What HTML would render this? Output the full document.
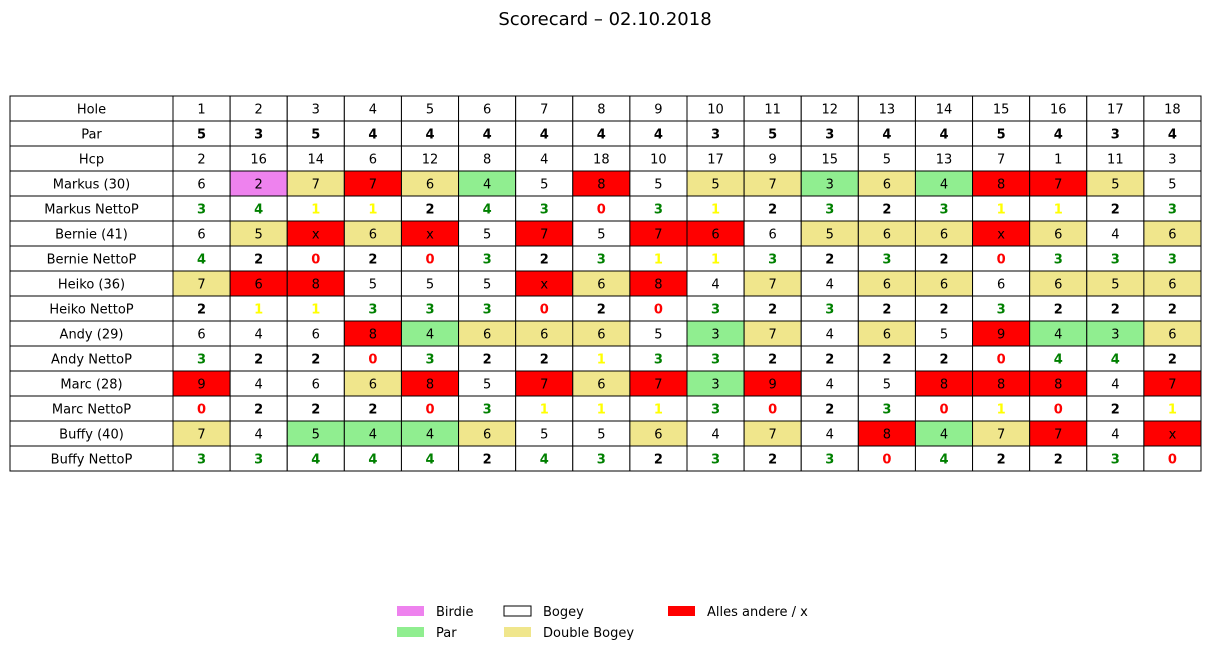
<!DOCTYPE html>
<html><head><meta charset="utf-8"><style>
body{margin:0;background:#fff;width:1210px;height:655px;overflow:hidden;font-family:"DejaVu Sans","Liberation Sans",sans-serif}
svg text{font-family:"DejaVu Sans","Liberation Sans",sans-serif}
</style></head><body>
<svg id="chart" width="1210" height="655">
<text x="605" y="25" text-anchor="middle" font-size="18">Scorecard – 02.10.2018</text>
<g id="table"></g>
<g id="legend"></g>
</svg>
<script>
const holes=[1,2,3,4,5,6,7,8,9,10,11,12,13,14,15,16,17,18];
const par=[5,3,5,4,4,4,4,4,4,3,5,3,4,4,5,4,3,4];
const hcp=[2,16,14,6,12,8,4,18,10,17,9,15,5,13,7,1,11,3];
const players=["Markus (30)","Bernie (41)","Heiko (36)","Andy (29)","Marc (28)","Buffy (40)"];
const nettoNames=["Markus NettoP","Bernie NettoP","Heiko NettoP","Andy NettoP","Marc NettoP","Buffy NettoP"];
const scoresMarkus=[6,2,7,7,6,4,5,8,5,5,7,3,6,4,8,7,5,5];
const nettoMarkus=[3,4,1,1,2,4,3,0,3,1,2,3,2,3,1,1,2,3];
const scoresBernie=[6,5,"x",6,"x",5,7,5,7,6,6,5,6,6,"x",6,4,6];
const nettoBernie=[4,2,0,2,0,3,2,3,1,1,3,2,3,2,0,3,3,3];
const scoresHeiko=[7,6,8,5,5,5,"x",6,8,4,7,4,6,6,6,6,5,6];
const nettoHeiko=[2,1,1,3,3,3,0,2,0,3,2,3,2,2,3,2,2,2];
const scoresAndy=[6,4,6,8,4,6,6,6,5,3,7,4,6,5,9,4,3,6];
const nettoAndy=[3,2,2,0,3,2,2,1,3,3,2,2,2,2,0,4,4,2];
const scoresMarc=[9,4,6,6,8,5,7,6,7,3,9,4,5,8,8,8,4,7];
const nettoMarc=[0,2,2,2,0,3,1,1,1,3,0,2,3,0,1,0,2,1];
const scoresBuffy=[7,4,5,4,4,6,5,5,6,4,7,4,8,4,7,7,4,"x"];
const nettoBuffy=[3,3,4,4,4,2,4,3,2,3,2,3,0,4,2,2,3,0];
const allScores=[scoresMarkus,scoresBernie,scoresHeiko,scoresAndy,scoresMarc,scoresBuffy];
const allNetto=[nettoMarkus,nettoBernie,nettoHeiko,nettoAndy,nettoMarc,nettoBuffy];

const NS="http://www.w3.org/2000/svg";
const tbl=document.getElementById('table');
const X0=10,W0=163,XE=1201,Y0=96,RH=25;
const CW=(XE-X0-W0)/holes.length;
function colX(i){return X0+W0+i*CW;}
function rowY(r){return Y0+r*RH;}
function mk(tag,attrs,parent){const e=document.createElementNS(NS,tag);for(const k in attrs)e.setAttribute(k,attrs[k]);parent.appendChild(e);return e;}
function scoreFill(s,p){if(s==="x")return"#ff0000";const d=s-p;if(d<=-1)return"#ee82ee";if(d===0)return"#90ee90";if(d===1)return"#ffffff";if(d===2)return"#f0e68c";return"#ff0000";}
function nettoColor(n){if(n===0)return"#ff0000";if(n===1)return"#ffff00";if(n===2)return"#000000";return"#008000";}
function cell(r,c,txt,fill,color,bold,name){
  const x=c<0?X0:colX(c),w=c<0?W0:CW,y=rowY(r);
  const rect=mk('rect',{x:x,y:y,width:w,height:RH,fill:fill,stroke:"#000","stroke-width":1},tbl);
  
  
  const t=mk('text',{x:x+w/2,y:y+RH/2+5,"text-anchor":"middle","font-size":13,fill:color,"font-weight":bold?"bold":"normal"},tbl);
  t.textContent=txt;
  
  
}
let r=0;
cell(r,-1,"Hole","#fff","#000",false,"hole-label");
holes.forEach((h,i)=>cell(r,i,h,"#fff","#000",false,"hole-"+h));
r++;
cell(r,-1,"Par","#fff","#000",false,"par-label");
par.forEach((p,i)=>cell(r,i,p,"#fff","#000",true,"par-"+(i+1)));
r++;
cell(r,-1,"Hcp","#fff","#000",false,"hcp-label");
hcp.forEach((p,i)=>cell(r,i,p,"#fff","#000",false,"hcp-"+(i+1)));
r++;
players.forEach((pl,k)=>{
  const nm=pl.split(" ")[0].toLowerCase();
  cell(r,-1,pl,"#fff","#000",false,nm+"-label");
  allScores[k].forEach((s,i)=>cell(r,i,s,scoreFill(s,par[i]),"#000",false,nm+"-score-"+(i+1)));
  r++;
  cell(r,-1,nettoNames[k],"#fff","#000",false,nm+"-netto-label");
  allNetto[k].forEach((n,i)=>cell(r,i,n,"#fff",nettoColor(n),true,nm+"-netto-"+(i+1)));
  r++;
});
const leg=document.getElementById('legend');
const legendItems=[["Birdie","#ee82ee",397,606],["Par","#90ee90",397,627],["Bogey","#ffffff",504,606],["Double Bogey","#f0e68c",504,627],["Alles andere / x","#ff0000",668,606]];
legendItems.forEach(([lab,col,x,y])=>{
  const g=mk('g',{},leg);
  
  
  mk('rect',{x:x,y:y,width:27,height:10,fill:col,stroke:col==="#ffffff"?"#000":"none"},g);
  const t=mk('text',{x:x+39,y:y+10,"font-size":13,fill:"#000"},g);
  t.textContent=lab;
});
</script>
</body></html>
